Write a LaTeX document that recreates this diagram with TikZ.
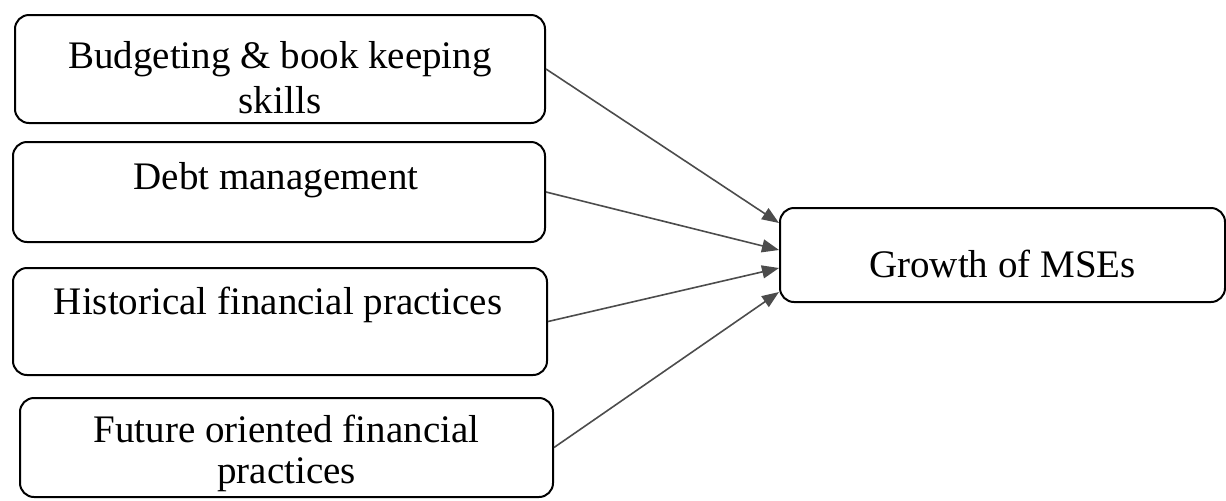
\documentclass[tikz,border=0pt]{standalone}
\usepackage{fontspec}
\setmainfont{Liberation Serif}
\usetikzlibrary{
    arrows.meta,
    positioning
}
\tikzset{
    % Box styles
    factor box/.style={
        draw=black,
        line width=1pt,
        rectangle,
        rounded corners=7pt,
        minimum width=266pt,
        minimum height=50pt
    },
    outcome box/.style={
        factor box,
        minimum width=222.5pt,
        minimum height=47pt
    },
    box text/.style={
        font=\fontsize{19.5}{22.5}\selectfont,
        align=center,
        inner sep=0pt
    },
    % Arrow styles
    link arrow/.style={
        -{Triangle[length=8.5pt,width=6.5pt]},
        line width=0.8pt,
        black!70
    }
}

\begin{document}
\begin{tikzpicture}[x=0.5pt, y=-0.5pt]
        \useasboundingbox (0,0) rectangle (1226,500);
        % Boxes
        \node[factor box, minimum width=265pt, minimum height=54pt] (budget) at (280,69) {};
        \node[factor box, minimum height=50pt] (debt) at (279,192) {};
        \node[factor box, minimum width=267pt, minimum height=53.5pt] (hist) at (280,321.5) {};
        \node[factor box, minimum width=266.5pt, minimum height=49.5pt] (future) at (286.5,447.5) {};
        \node[outcome box] (growth) at (1002.5,255) {};

        % Texts
        \node[box text] (budgettxt) at (280,78) {Budgeting \& book keeping\\skills};
        \node[box text] (debttxt) at (276,180) {Debt management};
        \node[box text] (histtxt) at (278,305) {Historical financial practices};
        \node[box text, font=\fontsize{19.5}{20.5}\selectfont] (futuretxt) at (286.5,453) {Future oriented financial\\practices};
        \node[box text] (growthtxt) at (1002.5,264) {Growth of MSEs};

        % Edges
        \draw[link arrow] (budget.east) -- ([yshift=16pt]growth.west);
        \draw[link arrow] (debt.east) -- ([yshift=2.5pt]growth.west);
        \draw[link arrow] (hist.east) -- ([yshift=-6.5pt]growth.west);
        \draw[link arrow] (future.east) -- ([yshift=-18.5pt]growth.west);
    \end{tikzpicture}
\end{document}
